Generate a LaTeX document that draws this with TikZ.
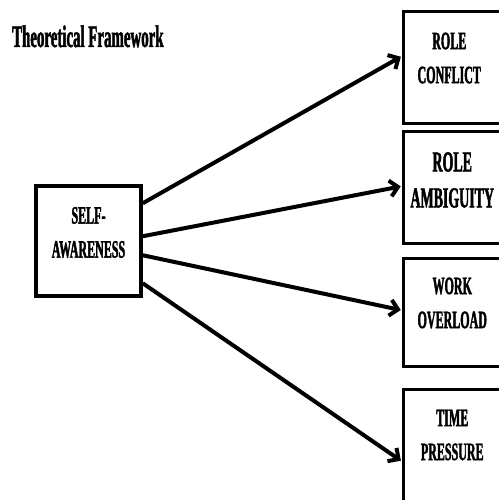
\documentclass[tikz,border=0pt]{standalone}
\usepackage{fontspec}
\newfontfamily\condserif[FakeStretch=0.48,FakeBold=1.5]{Liberation Serif Bold}
\usetikzlibrary{arrows.meta}
\tikzset{
  fbox/.style={draw,line width=3.5pt,minimum width=97.5pt,inner sep=0pt},
  ftext/.style={align=center,font=\condserif\fontsize{25}{34}\selectfont},
  farrow/.style={line width=4pt,-{Straight Barb[length=8pt,width=16pt]},shorten >=1pt},
}
\begin{document}
\begin{tikzpicture}[x=1pt,y=-1pt]
  \useasboundingbox (0,0) rectangle (498,500);
  \node[anchor=base west,inner sep=0pt,font=\condserif\fontsize{31}{34}\selectfont] (title) at (12,47) {Theoretical Framework};
  \node[fbox,minimum width=105pt,minimum height=110pt,
        label={[ftext,yshift=8.5pt]center:SELF-\\AWARENESS}] (sa) at (88.5,241) {};
  \node[fbox,minimum height=112pt,
        label={[ftext,xshift=-3pt,yshift=9.5pt]center:ROLE\\CONFLICT}] (rc) at (452.25,67.5) {};
  \node[fbox,minimum height=112pt,
        label={[ftext,font=\condserif\fontsize{29}{36}\selectfont,yshift=7.5pt]center:ROLE\\AMBIGUITY}] (ra) at (452.25,187.5) {};
  \node[fbox,minimum height=108pt,
        label={[ftext,yshift=9.5pt]center:WORK\\OVERLOAD}] (wo) at (452.25,312.5) {};
  \node[fbox,minimum height=115pt,
        label={[ftext,yshift=12pt]center:TIME\\PRESSURE}] (tp) at (452.25,447) {};
  % arrows
  \draw[farrow] ([yshift=-19pt]sa.north east) -- ([yshift=-46.5pt]rc.north west);
  \draw[farrow] ([yshift=-52pt]sa.north east) -- ([yshift=-56.5pt]ra.north west);
  \draw[farrow] ([yshift=-71pt]sa.north east) -- ([yshift=-53.5pt]wo.north west);
  \draw[farrow] ([yshift=-99pt]sa.north east) -- ([yshift=-73.5pt]tp.north west);
\end{tikzpicture}
\end{document}
